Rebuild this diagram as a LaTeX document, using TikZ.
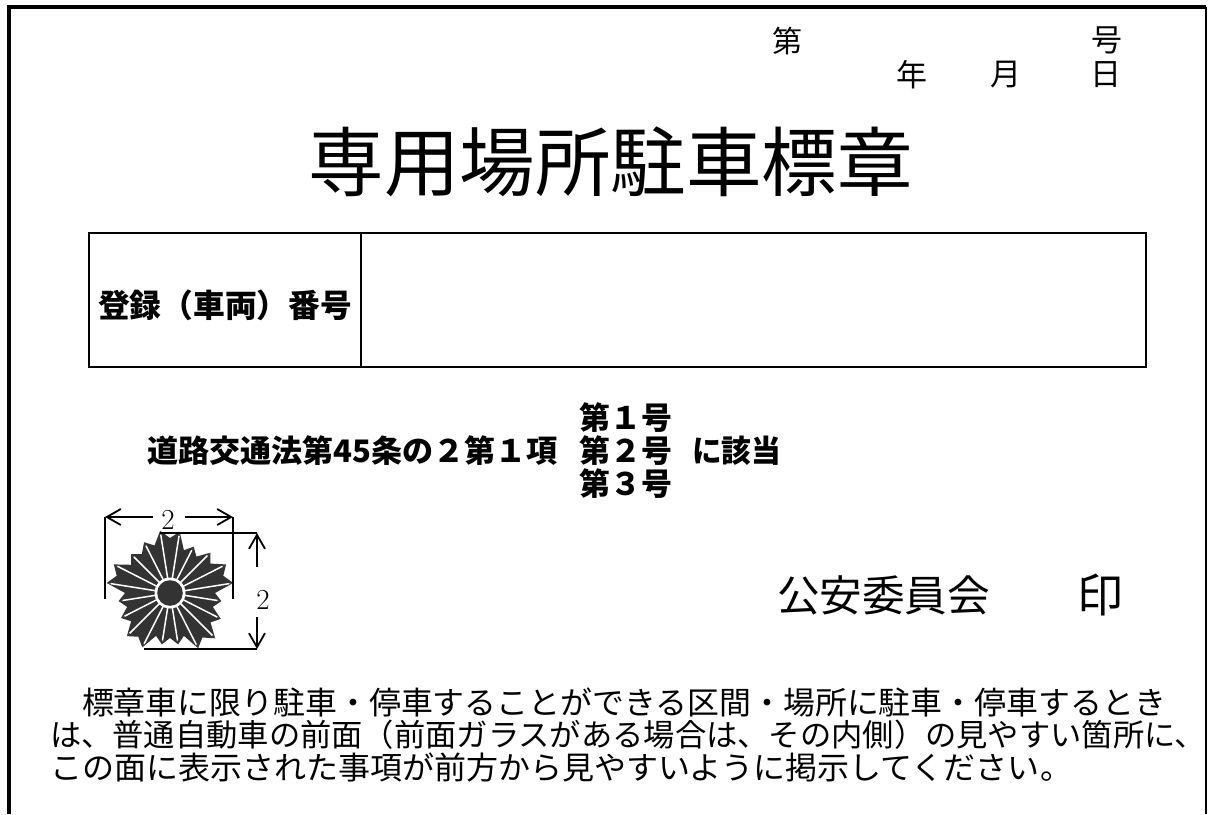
\documentclass[tikz,border=0pt]{standalone}
\usepackage{fontspec}
\usepackage{graphicx}
\usetikzlibrary{arrows.meta}
\newfontfamily\cjk{Noto Sans CJK JP}
\newcommand{\fitw}[2]{\resizebox{#1pt}{\height}{#2}}
\newcommand{\fs}[1]{\fontsize{#1}{#1}\selectfont}
\definecolor{crest}{HTML}{333333}
\tikzset{
  txt/.style={inner sep=0pt,outer sep=0pt,font=\cjk},
  boldtxt/.style={inner sep=0pt,outer sep=0pt,font=\cjk\bfseries},
  num/.style={inner sep=0pt,outer sep=0pt,font=\rmfamily\fontsize{29}{29}\selectfont},
  frameln/.style={line width=4pt,line cap=butt,line join=miter},
  cell/.style={draw,line width=2pt,inner sep=0pt,outer sep=0pt,minimum height=134pt},
  dimln/.style={line width=1.8pt},
  dimarr/.style={line width=1.8pt,-{Straight Barb[length=14pt,width=16pt,line width=1.8pt]}},
}
\begin{document}
\begin{tikzpicture}[x=1pt,y=-1pt]
\useasboundingbox (0,0) rectangle (1209,814);
% frame
\coordinate (fbl) at (9,814);
\coordinate (ftl) at (9,7);
\coordinate (ftr) at (1206,7);
\coordinate (fbr) at (1206,814);
\draw[frameln] (fbl) -- (ftl) -- (ftr);
\draw[line width=1.5pt] (ftr) -- (fbr);
% header
\node[txt] (dai) at (787,41) {\fs{30}第};
\node[txt] (go) at (1107,40) {\fs{31}号};
\node[txt] (nen) at (912,75) {\fs{31}年};
\node[txt] (tsuki) at (1006,75) {\fs{31}月};
\node[txt] (hi) at (1106,75) {\fs{31}日};
\node[txt] (title) at (610.5,162) {\fs{75.5}専用場所駐車標章};
% table
\node[cell,minimum width=272pt] (cellA) at (225,300) {};
\node[cell,minimum width=785pt] (cellB) at (753.5,300) {};
\node[boldtxt] (lab) at (225,305) {\fitw{254}{\fs{32}登録（車両）番号}};
% law
\node[boldtxt] (g1) at (625.5,418) {\fitw{93}{\fs{31}第１号}};
\node[boldtxt] (g2) at (625.5,451) {\fitw{93}{\fs{31}第２号}};
\node[boldtxt] (g3) at (625.5,484) {\fitw{93}{\fs{31}第３号}};
\node[boldtxt] (law) at (352.5,451) {\fitw{411}{\fs{31}道路交通法第45条の２第１項}};
\node[boldtxt] (gai) at (736.5,451) {\fitw{89}{\fs{31}に該当}};
% crest
\def\radii{{63,62,52,57,63,64,52,57,64,62,52,52,61,61,55,52,64,63,55,57,63}}
\foreach \k in {0,...,19}{
  \pgfmathtruncatemacro\kn{\k+1}
  \pgfmathsetmacro\ra{\radii[\k]}
  \pgfmathsetmacro\rb{\radii[\kn]}
  \pgfmathsetmacro\rn{min(\ra,\rb)-7}
  \pgfmathsetmacro\aa{99-18*\k}
  \pgfmathsetmacro\ab{99-18*\k-18}
  \pgfmathsetmacro\am{99-18*\k-9}
  \fill[crest] (170,593) -- ({170+\ra*cos(\aa)},{593-\ra*sin(\aa)})
     -- ({170+\rn*cos(\am)},{593-\rn*sin(\am)})
     -- ({170+\rb*cos(\ab)},{593-\rb*sin(\ab)}) -- cycle;
}
\foreach \k in {0,...,19}{
  \pgfmathsetmacro\ra{\radii[\k]}
  \pgfmathsetmacro\aa{99-18*\k}
  \draw[white,line width=1.5pt] (170,593) -- ({170+(\ra-4)*cos(\aa)},{593-(\ra-4)*sin(\aa)});
}
\fill[white] (170,593) circle (15.5pt);
\fill[crest] (170,593) circle (12.8pt);
% dimensions
\coordinate (hL) at (105,517);
\coordinate (hR) at (233,517);
\coordinate (hLb) at (105,599);
\coordinate (hRb) at (233,599);
\coordinate (vT) at (257,533);
\coordinate (vB) at (257,649);
\coordinate (vTl) at (160,533);
\coordinate (vBl) at (144,649);
\node[num] (w2) at (168,520) {2};
\node[num] (h2) at (263,600) {2};
\coordinate (hLg) at (153,517);
\coordinate (hRg) at (185,517);
\coordinate (vTg) at (257,567);
\coordinate (vBg) at (257,617);
\draw[dimarr] (hLg) -- (hL);
\draw[dimarr] (hRg) -- (hR);
\draw[dimarr] (vTg) -- (vT);
\draw[dimarr] (vBg) -- (vB);
\draw[dimln] (hL) -- (hLb);
\draw[dimln] (hR) -- (hRb);
\draw[dimln] (vTl) -- (vT);
\draw[dimln] (vBl) -- (vB);
% seal line
\node[txt] (koan) at (883.5,595) {\fitw{213}{\fs{42.6}公安委員会}};
\node[txt] (in) at (1100,595) {\fs{46}印};
% notes
\node[txt,anchor=west] (n1) at (82,702) {\fitw{1084}{\fs{31.5}標章車に限り駐車・停車することができる区間・場所に駐車・停車するとき}};
\node[txt,anchor=west] (n2) at (50,735) {\fitw{1156}{\fs{31}は、普通自動車の前面（前面ガラスがある場合は、その内側）の見やすい箇所に、}};
\node[txt,anchor=west] (n3) at (50,767) {\fitw{1022}{\fs{31.5}この面に表示された事項が前方から見やすいように掲示してください。}};
\end{tikzpicture}
\end{document}
